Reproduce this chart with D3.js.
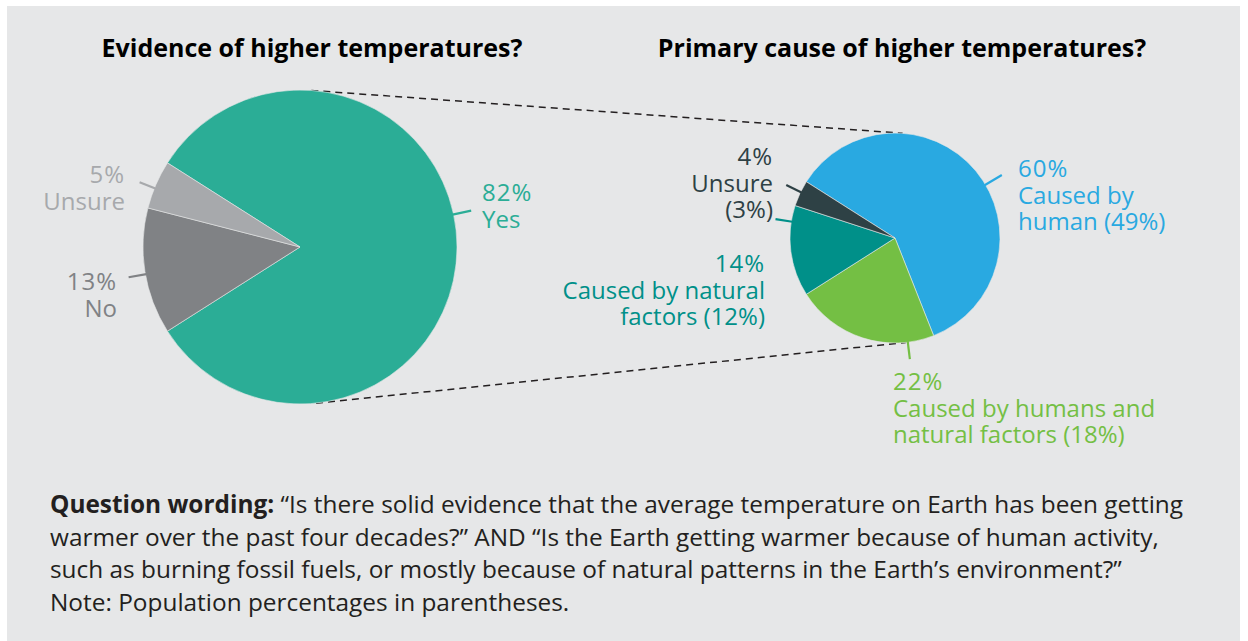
<!DOCTYPE html>
<html>
<head>
<meta charset="utf-8">
<script src="https://cdn.jsdelivr.net/npm/d3@7"></script>
<style>
  html, body { margin: 0; padding: 0; background: #ffffff; }
  svg { display: block; }
  text { font-family: "Open Sans", "Noto Sans", sans-serif; }
</style>
</head>
<body>
<svg id="chart" width="1248" height="641"></svg>
<script>
// ---------------- DATA ----------------
const evidenceCategories = ["Yes", "No", "Unsure"];
const evidenceValues = [82, 13, 5];

const causeCategories = ["Caused by human", "Caused by humans and natural factors", "Caused by natural factors", "Unsure"];
const causeValues = [60, 22, 14, 4];
const causePopulation = [49, 18, 12, 3];

const titles = ["Evidence of higher temperatures?", "Primary cause of higher temperatures?"];

const evidenceLabels = [["82%", "Yes"], ["13%", "No"], ["5%", "Unsure"]];
const causeLabels = [
  ["60%", "Caused by", "human (49%)"],
  ["22%", "Caused by humans and", "natural factors (18%)"],
  ["14%", "Caused by natural", "factors (12%)"],
  ["4%", "Unsure", "(3%)"]
];

const noteBold = "Question wording:";
const noteLines = [
  " \u201CIs there solid evidence that the average temperature on Earth has been getting",
  "warmer over the past four decades?\u201D AND \u201CIs the Earth getting warmer because of human activity,",
  "such as burning fossil fuels, or mostly because of natural patterns in the Earth\u2019s environment?\u201D",
  "Note: Population percentages in parentheses."
];

// ---------------- LAYOUT / STYLE ----------------
const W = 1248, H = 641;
const svg = d3.select("#chart");

svg.append("rect").attr("x", 7).attr("y", 6).attr("width", 1233).attr("height", H - 6)
  .attr("fill", "#e6e7e8");

const evidenceColors = ["#2bad96", "#808285", "#a7a9ac"];
const causeColors = ["#29a9e1", "#74bf44", "#009089", "#2e4145"];

const left = { cx: 300, cy: 247, r: 157 };
const right = { cx: 895, cy: 238, r: 105 };

const deg = Math.PI / 180;
const startA = Math.PI / 2 - 0.82 * Math.PI; // "Yes" centred at 3 o'clock

// dashed external tangents between the two pies (drawn beneath the pies)
(function tangents() {
  const dx = right.cx - left.cx, dy = right.cy - left.cy;
  const D = Math.hypot(dx, dy);
  const th = Math.atan2(dy, dx);
  const a = Math.acos((left.r - right.r) / D);
  [th - a, th + a].forEach(phi => {
    const nx = Math.cos(phi), ny = Math.sin(phi);
    svg.append("line")
      .attr("x1", left.cx + left.r * nx).attr("y1", left.cy + left.r * ny)
      .attr("x2", right.cx + right.r * nx).attr("y2", right.cy + right.r * ny)
      .attr("stroke", "#231f20").attr("stroke-width", 1.5)
      .attr("stroke-dasharray", "7,5");
  });
})();

function drawPie(cfg, values, colors) {
  const pie = d3.pie().sort(null).value(d => d)
    .startAngle(startA).endAngle(startA + 2 * Math.PI);
  const arc = d3.arc().innerRadius(0).outerRadius(cfg.r);
  const g = svg.append("g").attr("transform", `translate(${cfg.cx},${cfg.cy})`);
  g.selectAll("path").data(pie(values)).join("path")
    .attr("d", arc)
    .attr("fill", (d, i) => colors[i])
    .attr("stroke", "#e6e7e8").attr("stroke-width", 0.6);
  return g;
}

drawPie(left, evidenceValues, evidenceColors);
drawPie(right, causeValues, causeColors);

// leader lines: angle (deg clockwise from 12 o'clock), length
function leader(cfg, angDeg, len, color) {
  const a = angDeg * deg;
  const sx = Math.sin(a), sy = -Math.cos(a);
  svg.append("line")
    .attr("x1", cfg.cx + (cfg.r - 1) * sx).attr("y1", cfg.cy + (cfg.r - 1) * sy)
    .attr("x2", cfg.cx + (cfg.r + len) * sx).attr("y2", cfg.cy + (cfg.r + len) * sy)
    .attr("stroke", color).attr("stroke-width", 2.2);
}

function label(lines, x, y, anchor, color, lh) {
  lines.forEach((s, i) => {
    svg.append("text").attr("x", x).attr("y", y + i * lh)
      .attr("text-anchor", anchor).attr("fill", color)
      .style("font-size", "24px")
      .style("letter-spacing", i === 0 ? "1px" : "0px")
      .text(s);
  });
}

// left pie labels
const evLayout = [
  { ang: 78, len: 18, x: 482, y: 201, anchor: "start" },
  { ang: 260, len: 17, x: 117, y: 290, anchor: "end" },
  { ang: 292, len: 16, x: 125, y: 183, anchor: "end" }
];
evidenceLabels.forEach((l, i) => {
  const o = evLayout[i];
  leader(left, o.ang, o.len, evidenceColors[i]);
  label(l, o.x, o.y, o.anchor, evidenceColors[i], 26.5);
});

// right pie labels
const causeLayout = [
  { ang: 59.5, len: 19, x: 1018, y: 177, anchor: "start" },
  { ang: 173, len: 17, x: 893, y: 390, anchor: "start" },
  { ang: 279, len: 16, x: 765, y: 272, anchor: "end" },
  { ang: 296, len: 16, x: 773, y: 165, anchor: "end" }
];
causeLabels.forEach((l, i) => {
  const o = causeLayout[i];
  leader(right, o.ang, o.len, causeColors[i]);
  label(l, o.x, o.y, o.anchor, causeColors[i], 26.5);
});

// titles
[[titles[0], 312], [titles[1], 902]].forEach(([t, x]) => {
  svg.append("text").attr("x", x).attr("y", 57).attr("text-anchor", "middle")
    .attr("fill", "#000").style("font-size", "25px").style("font-weight", "bold").text(t);
});

// note text
const noteY = [513, 546, 578, 611];
noteLines.forEach((s, i) => {
  const t = svg.append("text").attr("x", 50).attr("y", noteY[i]).attr("fill", "#231f20")
    .style("font-size", "24.4px");
  if (i === 0) t.append("tspan").style("font-weight", "bold").text(noteBold);
  t.append("tspan").text(s);
});
</script>
</body>
</html>
